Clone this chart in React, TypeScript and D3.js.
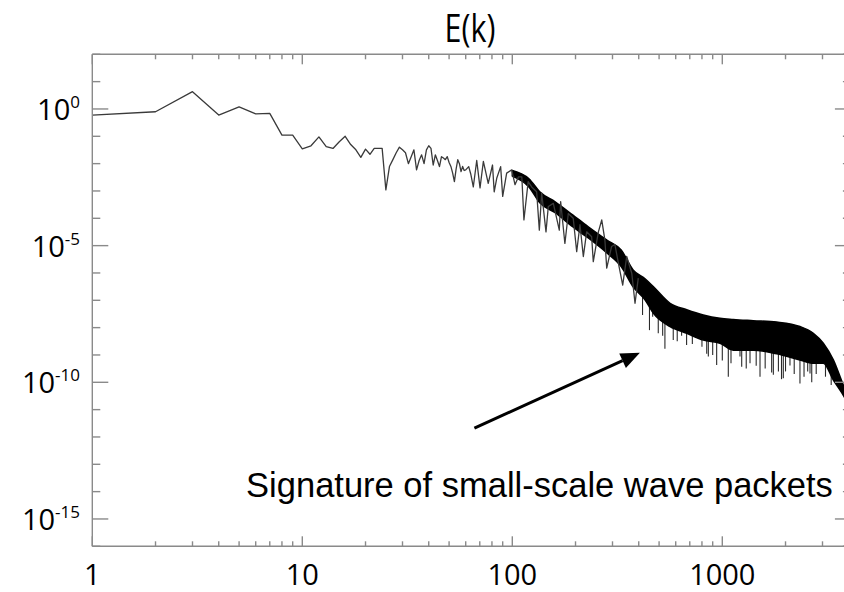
import React from 'react';
import * as d3 from 'd3';

const W = 844;
const H = 592;

// Resolved part of the spectrum: wavenumber k and energy E(k)
const lineK = [
  1, 2, 3, 4, 5, 6, 7, 8, 9, 10, 11, 12, 13, 14, 15, 16, 17, 18, 19, 20,
  21, 22, 23, 24, 25, 26, 27, 28, 29, 30, 31, 32, 33, 34, 35, 36, 37, 38, 39, 40,
  41, 42, 43, 44, 45, 46, 47, 48, 49, 50, 51, 52, 53, 54, 55, 56, 57, 58, 59, 60,
  62, 63.5, 65.2, 67.7, 70.2, 72.8, 76.8, 80.5, 82, 84.3, 88, 90, 94, 99.4, 103, 107,
  111, 113.6, 119, 123.7, 130.6, 134.5, 138, 144.7, 148.4, 156.8, 167.4, 169.9, 178,
  184.8, 195, 202.6, 210, 217.9, 226, 238.7, 243, 257, 266.6, 276, 281.6, 297, 308,
  320, 335.5, 350.6, 370.6, 384, 398,
];
const lineE = [
  0.6, 0.79, 4.3, 0.6, 1.2, 0.66, 0.69, 0.11, 0.11, 0.035, 0.045, 0.095, 0.042, 0.036, 0.063, 0.1, 0.05, 0.032, 0.017, 0.034,
  0.022, 0.036, 0.036, 0.036, 1.1e-3, 7.8e-3, 0.014, 0.025, 0.04, 0.032, 0.025, 0.01, 0.018, 0.032, 5.9e-3, 0.013, 0.021, 0.01, 0.032, 0.045,
  0.036, 8.9e-3, 0.021, 0.013, 7.8e-3, 0.018, 0.016, 0.014, 0.018, 0.011, 7.9e-3, 4.5e-3, 2.2e-3, 6.3e-3, 0.014, 0.01, 5.1e-3, 7.9e-3, 5.6e-3, 5.9e-3,
  7.8e-3, 4.0e-3, 1.4e-3, 0.013, 1.3e-3, 0.012, 1.9e-3, 8.9e-3, 9.3e-4, 2.9e-3, 7.8e-3, 6.3e-4, 4.5e-3, 5.9e-3, 1.7e-3, 3.3e-3,
  3.3e-3, 8.7e-5, 2.2e-3, 1.4e-3, 9.3e-4, 3.7e-5, 8.3e-4, 3.2e-5, 2.7e-4, 3.5e-4, 3.7e-5, 4.1e-4, 1.2e-5,
  1.5e-4, 1.0e-4, 6.0e-6, 5.8e-5, 4.0e-6, 3.2e-5, 2.1e-5, 2.6e-6, 3.2e-5, 8.7e-5, 1.6e-5, 1.5e-6, 9.3e-6, 1.1e-5,
  2.3e-6, 3.6e-7, 4.0e-6, 9.8e-7, 7.8e-8, 6.5e-7,
];

// Dense (unresolved) part: upper and lower edge of the black band
const bandK = [100, 120, 135.5, 160, 194.5, 230, 282, 330, 376, 430, 469, 564, 677, 812, 975, 1128, 1405, 1815, 2343, 2712, 3027, 3379, 3800, 4096];
const bandUpper = [5.6e-3, 2.8e-3, 9.1e-4, 4.0e-4, 1.3e-4, 4.9e-5, 1.6e-5, 6.9e-6, 1.3e-6, 6.0e-7, 3.2e-7, 7.8e-8, 4.5e-8, 2.9e-8, 2.2e-8, 2.0e-8, 1.8e-8, 1.6e-8, 1.1e-8, 6.2e-9, 2.7e-9, 6.6e-10, 6.9e-11, 2.2e-11];
const bandLower = [3.5e-3, 1.4e-3, 3.6e-4, 1.6e-4, 4.8e-5, 1.9e-5, 5.4e-6, 1.7e-6, 3.1e-7, 1.0e-7, 3.4e-8, 1.1e-8, 6.2e-9, 3.5e-9, 2.7e-9, 1.5e-9, 1.5e-9, 1.1e-9, 6.6e-10, 5.0e-10, 5.0e-10, 1.2e-10, 3.0e-11, 1.0e-11];

// Downward spikes below the band
const spikeK = [
  417, 450, 466, 495.5, 520, 533, 584, 610, 640, 676, 720, 769, 800, 843, 858, 900, 940, 1000, 1068, 1100,
  1214, 1237, 1300, 1355, 1450, 1512, 1600, 1718, 1750, 1850, 1914, 1952, 2000, 2100, 2200, 2343, 2450, 2550,
  2616, 2666, 2800, 2864, 3100, 3300,
];
const spikeE = [
  2.9e-8, 8.1e-9, 2.5e-8, 6.2e-9, 5.0e-9, 1.7e-9, 3.5e-9, 3.2e-9, 5.0e-9, 2.3e-9, 2.5e-9, 4.1e-9, 2.0e-9, 1.1e-9, 8.7e-10, 1.0e-9, 4.3e-10, 6.3e-10, 1.6e-10, 5.0e-10,
  8.7e-10, 3.7e-10, 3.2e-10, 5.0e-10, 4.0e-10, 1.6e-10, 3.2e-10, 2.3e-10, 1.9e-10, 2.5e-10, 1.3e-10, 1.4e-10, 2.5e-10, 4.1e-10, 2.0e-10, 9.1e-11, 1.6e-10, 2.5e-10,
  2.1e-10, 1.0e-10, 2.0e-10, 6.6e-10, 1.6e-10, 8.0e-11,
];

const xTickValues = [1, 10, 100, 1000];
const xTickLabels = ['1', '10', '100', '1000'];
const yTickValues = [1, 1e-5, 1e-10, 1e-15];
const yTickExps = ['0', '-5', '-10', '-15'];

const titleText = 'E(k)';
const noteText = 'Signature of small-scale wave packets';
const arrowFrom = { k: 66, e: 2.1e-12 };
const arrowTo = { k: 405, e: 1.2e-9 };
const notePos = { k: 5.4, e: 6.5e-15 };

export default function App() {
  const left = 92.3;
  const right = 850.9;
  const top = 54.3;
  const bottom = 546.3;
  const x = d3.scaleLog().domain([1, 4096]).range([left, right]);
  const y = d3.scaleLog().domain([1e-16, 1e2]).range([bottom, top]);

  const linePts = lineK.map((k, i) => [k, lineE[i]] as [number, number]);
  const linePath = d3.line<[number, number]>().x((d) => x(d[0])).y((d) => y(d[1]))(linePts) || '';

  const bandPts = bandK.map((k, i) => ({ k, u: bandUpper[i], l: bandLower[i] }));
  const bandPath = d3
    .area<{ k: number; u: number; l: number }>()
    .curve(d3.curveMonotoneX)
    .x((d) => x(d.k))
    .y0((d) => y(d.l))
    .y1((d) => y(d.u))(bandPts) || '';

  const midAt = d3
    .scaleLinear()
    .domain(bandK.map((k) => x(k)))
    .range(bandK.map((_, i) => (y(bandUpper[i]) + y(bandLower[i])) / 2));

  const axisColor = '#8a8a8a';
  const axisW = 1.4;

  const xTicks: { v: number; major: boolean }[] = [];
  for (let d = 0; d <= 3; d++) {
    for (let m = 1; m <= 9; m++) {
      const v = m * Math.pow(10, d);
      if (v <= 4096) xTicks.push({ v, major: m === 1 });
    }
  }
  const yTicks: { v: number; major: boolean }[] = [];
  for (let p = -16; p <= 2; p++) {
    yTicks.push({ v: Math.pow(10, p), major: p % 5 === 0 });
  }

  const ax0 = x(arrowFrom.k);
  const ay0 = y(arrowFrom.e);
  const ax1 = x(arrowTo.k);
  const ay1 = y(arrowTo.e);
  const ang = Math.atan2(ay1 - ay0, ax1 - ax0);
  const headLen = 19;
  const headW = 8;
  const bx = ax1 - headLen * Math.cos(ang);
  const by = ay1 - headLen * Math.sin(ang);
  const head = [
    [ax1, ay1],
    [bx + headW * Math.sin(ang), by - headW * Math.cos(ang)],
    [bx - headW * Math.sin(ang), by + headW * Math.cos(ang)],
  ]
    .map((p) => p.join(','))
    .join(' ');

  const labelFont = "'Open Sans', 'Liberation Sans', sans-serif";

  return (
    <svg
      width={W}
      height={H}
      viewBox={`0 0 ${W} ${H}`}
      style={{ position: 'absolute', left: 0, top: 0, background: '#fff' }}
    >
      <rect x={0} y={0} width={W} height={H} fill="#fff" />
      <defs>
        <clipPath id="plotClip">
          <rect x={left} y={top} width={right - left} height={bottom - top} />
        </clipPath>
      </defs>

      <text
        transform={`translate(${470},${42}) scale(0.8,1)`}
        textAnchor="middle"
        fontFamily={labelFont}
        fontSize={38}
        fill="#000"
      >
        {titleText}
      </text>

      <g clipPath="url(#plotClip)">
        {spikeK.map((k, i) => (
          <line
            key={i}
            x1={x(k)}
            x2={x(k)}
            y1={midAt(x(k))}
            y2={y(spikeE[i])}
            stroke="#2a2a2a"
            strokeWidth={1.1}
          />
        ))}
        <path d={bandPath} fill="#000" stroke="#000" strokeWidth={1.5} strokeLinejoin="round" />
        <path d={linePath} fill="none" stroke="#3a3a3a" strokeWidth={1.3} strokeLinejoin="round" />
      </g>

      <g stroke={axisColor} strokeWidth={axisW} fill="none">
        <line x1={left} x2={right} y1={top} y2={top} />
        <line x1={left} x2={right} y1={bottom} y2={bottom} />
        <line x1={left} x2={left} y1={top} y2={bottom} />
        <line x1={right} x2={right} y1={top} y2={bottom} />
        {xTicks.map((t, i) => {
          const len = t.major ? 10 : 5;
          const xx = x(t.v);
          return (
            <g key={'xt' + i}>
              <line x1={xx} x2={xx} y1={bottom} y2={bottom - len} />
              <line x1={xx} x2={xx} y1={top} y2={top + len} />
            </g>
          );
        })}
        {yTicks.map((t, i) => {
          const len = t.major ? 16 : 8;
          const yy = y(t.v);
          return (
            <g key={'yt' + i}>
              <line x1={left} x2={left + len} y1={yy} y2={yy} />
              <line x1={right} x2={right - len} y1={yy} y2={yy} />
            </g>
          );
        })}
      </g>

      {xTickValues.map((v, i) => (
        <text
          key={'xl' + i}
          x={x(v)}
          y={585}
          textAnchor="middle"
          fontFamily={labelFont}
          fontSize={29}
          fill="#000"
        >
          {xTickLabels[i]}
        </text>
      ))}

      {yTickValues.map((v, i) => (
        <text
          key={'yl' + i}
          x={80}
          y={y(v) + 11}
          textAnchor="end"
          fontFamily={labelFont}
          fontSize={29}
          fill="#000"
        >
          10
          <tspan dy={-12} fontSize={17}>
            {yTickExps[i]}
          </tspan>
        </text>
      ))}

      <line x1={ax0} y1={ay0} x2={bx} y2={by} stroke="#000" strokeWidth={3} />
      <polygon points={head} fill="#000" />
      <text
        x={x(notePos.k)}
        y={y(notePos.e)}
        fontFamily="'Liberation Sans', Arial, sans-serif"
        fontSize={34.5}
        fill="#000"
      >
        {noteText}
      </text>
    </svg>
  );
}
